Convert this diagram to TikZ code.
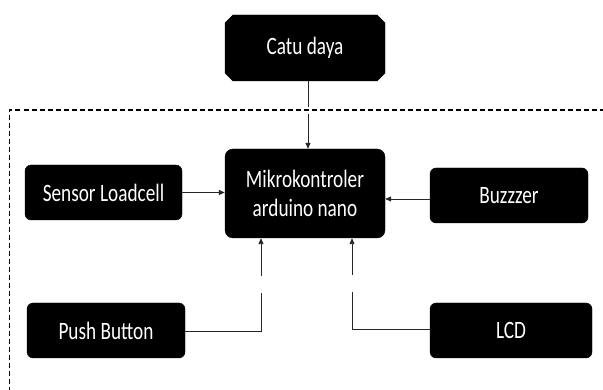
\documentclass[tikz,border=0pt]{standalone}
\usepackage{fontspec}
\setmainfont{Carlito}[FakeStretch=0.77]
\usetikzlibrary{arrows.meta,shapes.misc}
\begin{document}
\begin{tikzpicture}[x=1pt,y=-1pt,
  blk/.style={fill=black, draw=black, rounded corners=6pt, text=white, inner sep=0pt,
    font=\fontsize{25}{29}\selectfont, align=center},
  chblk/.style={blk, rounded corners=0pt, chamfered rectangle, chamfered rectangle xsep=4pt, chamfered rectangle ysep=4pt},
  conn/.style={draw=black!85, line width=0.9pt},
  arr/.style={conn, -{Triangle[length=6pt,width=5pt]}},
  frame/.style={draw=black, line width=1.1pt, dash pattern=on 5pt off 3pt}]
\useasboundingbox (0,0) rectangle (603,390);
\fill[white] (0,0) rectangle (603,390);
\draw[frame] (9.5,392) -- (9.5,110) -- (606,110);
\node[chblk, minimum width=160pt, minimum height=66pt] (cd) at (305,48) {Catu daya};
\node[blk, minimum width=160pt, minimum height=89pt, rounded corners=8pt] (mk) at (305,193.5) {Mikrokontroler\\arduino nano};
\node[blk, minimum width=157pt, minimum height=55pt] (sl) at (103.5,192.5) {Sensor Loadcell};
\node[blk, minimum width=158pt, minimum height=55pt] (bz) at (509,195.5) {Buzzzer};
\node[blk, minimum width=158pt, minimum height=55pt] (pb) at (106,330.5) {Push Button};
\node[blk, minimum width=162pt, minimum height=55pt] (lcd) at (511,330.5) {LCD};
% Catu daya -> MK (with gap at frame)
\coordinate (cdtop) at (308,81);
\coordinate (cdg1) at (308,107);
\coordinate (cdg2) at (308,114);
\draw[conn] (cd.south -| cdtop) -- (cdg1);
\draw[arr] (cdg2) -- (mk.north -| cdg2);
% Sensor -> MK
\draw[arr, line width=1.4pt] (sl.east) -- (sl.east -| mk.west);
% Buzzer -> MK
\draw[arr] ([yshift=-3.5pt]bz.west) -- ([yshift=-3.5pt]bz.west -| mk.east);
% Push Button -> MK
\coordinate (pbk) at (261,331);
\coordinate (pbg1) at (261,293);
\coordinate (pbg2) at (261,276);
\draw[conn] (pb.east |- pbk) -- (pbk) -- (pbg1);
\draw[arr] (pbg2) -- (mk.south -| pbg2);
% LCD -> MK
\coordinate (lck) at (352,329);
\coordinate (lcg1) at (352,292);
\coordinate (lcg2) at (352,275);
\draw[conn] (lcd.west |- lck) -- (lck) -- (lcg1);
\draw[arr] (lcg2) -- (mk.south -| lcg2);
\end{tikzpicture}
\end{document}
